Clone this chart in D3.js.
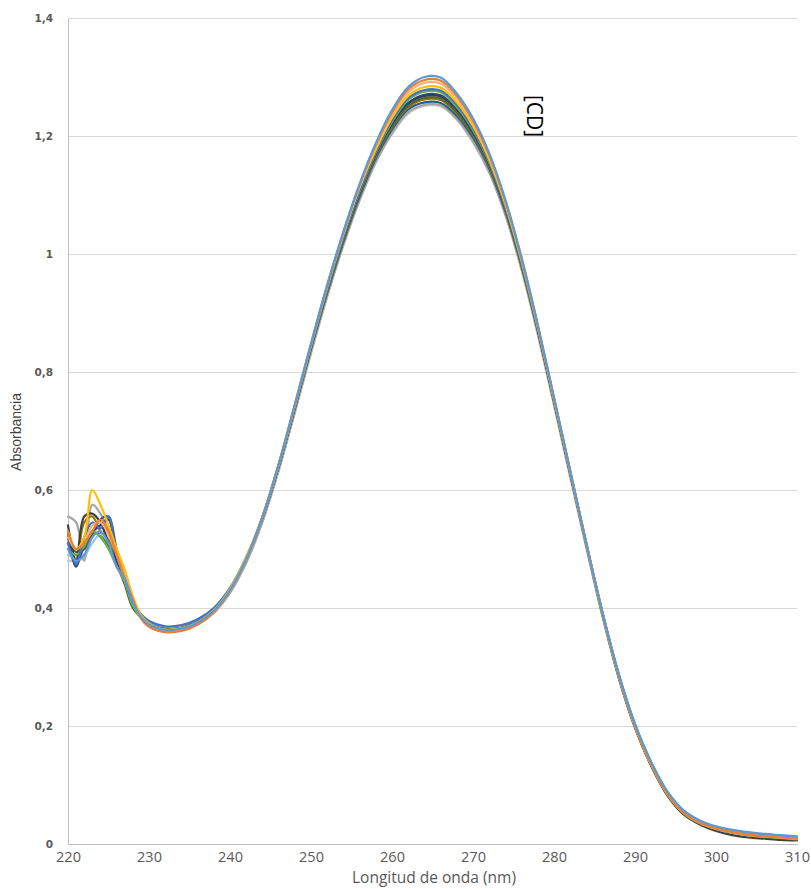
<!DOCTYPE html>
<html><head><meta charset="utf-8">
<script src="https://cdn.jsdelivr.net/npm/d3@7"></script>
<style>html,body{margin:0;padding:0;background:#fff;}</style>
</head><body>
<svg id="chart" width="811" height="889"></svg>
<script>
// wavelengths (nm)
const wavelengths = [220,221,222,223,224,225,226,227,228,229,230,232,234,236,238,240,242,244,246,248,250,252,254,256,258,260,262,264,266,268,270,272,274,276,278,280,282,284,286,288,290,292,294,296,298,300,302,304,306,308,310];
const xTicks = [220,230,240,250,260,270,280,290,300,310];
const yTicks = [0,0.2,0.4,0.6,0.8,1,1.2,1.4];
const yTickLabels = ["0","0,2","0,4","0,6","0,8","1","1,2","1,4"];

const s1 = [0.50,0.48,0.49,0.52,0.53,0.51,0.47,0.45,0.41, 0.385,0.372,0.363,0.365,0.375,0.395,0.430,0.483, 0.554,0.643,0.745,0.848,0.948,1.038,1.119,1.188,1.244,1.283,1.300,1.299,1.272,1.230,1.171,1.092,0.994,0.880,0.757,0.633,0.509, 0.391,0.287,0.203,0.139,0.089,0.057,0.040,0.030,0.024,0.020,0.017,0.015,0.013];
const s2 = [0.53,0.50,0.51,0.53,0.55,0.53,0.49,0.45,0.415, 0.383,0.368,0.359,0.361,0.372,0.393,0.429,0.482, 0.554,0.643,0.744,0.847,0.946,1.036,1.117,1.185,1.240,1.279,1.295,1.294,1.268,1.226,1.168,1.089,0.992,0.879,0.756,0.632,0.509, 0.390,0.285,0.200,0.135,0.085,0.053,0.036,0.026,0.020,0.016,0.013,0.011,0.009];
const s3 = [0.555,0.545,0.48,0.575,0.56,0.53,0.49,0.455,0.41, 0.386,0.372,0.362,0.363,0.373,0.392,0.426,0.477, 0.546,0.633,0.732,0.833,0.929,1.016,1.092,1.156,1.205,1.240,1.253,1.252,1.229,1.191,1.139,1.067,0.974,0.865,0.745,0.623,0.502, 0.385,0.281,0.198,0.134,0.085,0.053,0.036,0.026,0.020,0.016,0.013,0.011,0.009];
const s4 = [0.53,0.50,0.52,0.60,0.575,0.54,0.50,0.465,0.42, 0.388,0.374,0.364,0.366,0.376,0.396,0.432,0.486, 0.555,0.644,0.744,0.847,0.945,1.034,1.113,1.177,1.231,1.268,1.283,1.282,1.257,1.217,1.160,1.084,0.988,0.876,0.754,0.631,0.508, 0.390,0.285,0.200,0.135,0.085,0.053,0.036,0.026,0.020,0.016,0.013,0.011,0.009];
const s5 = [0.51,0.475,0.52,0.545,0.535,0.555,0.49,0.45,0.41, 0.390,0.378,0.369,0.371,0.381,0.400,0.434,0.486, 0.553,0.641,0.742,0.844,0.941,1.030,1.108,1.174,1.227,1.264,1.278,1.277,1.253,1.213,1.157,1.082,0.986,0.875,0.754,0.630,0.508, 0.392,0.288,0.203,0.138,0.088,0.056,0.039,0.029,0.023,0.019,0.016,0.014,0.012];
const s6 = [0.50,0.49,0.505,0.53,0.52,0.50,0.47,0.445,0.405, 0.384,0.370,0.361,0.363,0.374,0.394,0.429,0.482, 0.553,0.641,0.741,0.843,0.940,1.028,1.106,1.172,1.224,1.261,1.275,1.274,1.249,1.210,1.155,1.080,0.985,0.874,0.753,0.630,0.508, 0.389,0.284,0.199,0.134,0.084,0.052,0.035,0.025,0.019,0.015,0.012,0.010,0.008];
const s7 = [0.52,0.47,0.51,0.53,0.54,0.55,0.48,0.455,0.41, 0.386,0.373,0.364,0.366,0.376,0.396,0.431,0.484, 0.553,0.641,0.740,0.842,0.939,1.026,1.104,1.170,1.221,1.256,1.270,1.269,1.245,1.207,1.153,1.078,0.984,0.873,0.752,0.630,0.508, 0.390,0.285,0.200,0.135,0.085,0.053,0.036,0.026,0.020,0.016,0.013,0.011,0.009];
const s8 = [0.54,0.48,0.555,0.56,0.545,0.51,0.48,0.45,0.41, 0.385,0.372,0.363,0.365,0.375,0.395,0.430,0.483, 0.553,0.641,0.740,0.842,0.938,1.026,1.103,1.168,1.220,1.255,1.268,1.267,1.244,1.205,1.151,1.077,0.983,0.872,0.752,0.629,0.508, 0.388,0.282,0.197,0.132,0.082,0.050,0.033,0.022,0.015,0.011,0.009,0.007,0.006];
const s9 = [0.525,0.475,0.545,0.555,0.53,0.515,0.485,0.455,0.41, 0.385,0.372,0.363,0.365,0.375,0.395,0.430,0.483, 0.553,0.640,0.739,0.841,0.936,1.023,1.100,1.165,1.215,1.249,1.262,1.261,1.238,1.201,1.148,1.075,0.981,0.871,0.751,0.629,0.508, 0.390,0.285,0.200,0.135,0.085,0.053,0.036,0.026,0.020,0.016,0.013,0.011,0.009];
const s10 = [0.50,0.49,0.50,0.525,0.55,0.555,0.50,0.46,0.415, 0.387,0.374,0.365,0.367,0.377,0.397,0.432,0.484, 0.553,0.640,0.738,0.840,0.935,1.021,1.097,1.162,1.211,1.245,1.257,1.256,1.234,1.197,1.145,1.072,0.979,0.870,0.750,0.628,0.507, 0.391,0.286,0.201,0.136,0.086,0.054,0.037,0.027,0.021,0.017,0.014,0.012,0.010];
const s11 = [0.52,0.50,0.51,0.54,0.545,0.525,0.49,0.455,0.415, 0.382,0.369,0.360,0.362,0.372,0.392,0.428,0.482, 0.554,0.642,0.743,0.846,0.945,1.034,1.114,1.182,1.236,1.274,1.290,1.289,1.263,1.222,1.165,1.087,0.991,0.878,0.755,0.632,0.509, 0.390,0.285,0.200,0.135,0.085,0.053,0.036,0.026,0.020,0.016,0.013,0.011,0.009];
const s12 = [0.48,0.48,0.485,0.52,0.54,0.52,0.48,0.45,0.41, 0.384,0.371,0.361,0.363,0.372,0.391,0.425,0.476, 0.546,0.632,0.731,0.831,0.927,1.014,1.090,1.155,1.203,1.238,1.251,1.250,1.228,1.189,1.138,1.065,0.973,0.863,0.744,0.622,0.502, 0.385,0.281,0.198,0.134,0.085,0.053,0.036,0.026,0.020,0.016,0.013,0.011,0.009];
const s13 = [0.49,0.485,0.49,0.51,0.525,0.51,0.475,0.445,0.405, 0.384,0.371,0.362,0.364,0.374,0.394,0.429,0.482, 0.553,0.641,0.740,0.842,0.938,1.026,1.103,1.168,1.220,1.255,1.268,1.267,1.244,1.205,1.151,1.077,0.983,0.872,0.752,0.629,0.508, 0.390,0.285,0.200,0.135,0.085,0.053,0.036,0.026,0.020,0.016,0.013,0.011,0.009];
const s14 = [0.51,0.495,0.50,0.525,0.525,0.505,0.475,0.44,0.40, 0.384,0.371,0.362,0.364,0.374,0.394,0.429,0.482, 0.553,0.640,0.740,0.841,0.937,1.024,1.101,1.167,1.217,1.252,1.265,1.264,1.241,1.203,1.150,1.076,0.982,0.872,0.752,0.629,0.508, 0.390,0.285,0.200,0.135,0.085,0.053,0.036,0.026,0.020,0.016,0.013,0.011,0.009];

// drawing order (bottom to top) and colours
const seriesList = [s12, s3, s10, s9, s14, s13, s8, s7, s6, s5, s4, s11, s2, s1];
const seriesColors = ["#C9C9C9","#A5A5A5","#255E91","#997300","#43682B","#9DC3E6","#404040","#264478","#70AD47","#4472C4","#FFC000","#F4B183","#ED7D31","#5B9BD5"];

const svg = d3.select("#chart");
const M = {left: 68, right: 797, top: 18, bottom: 844};
const x = d3.scaleLinear().domain([220,310]).range([M.left, M.right]);
const y = d3.scaleLinear().domain([0,1.4]).range([M.bottom, M.top]);

// gridlines
svg.append("g").selectAll("line").data(yTicks.filter(d => d > 0)).join("line")
  .attr("x1", M.left).attr("x2", M.right)
  .attr("y1", d => y(d)).attr("y2", d => y(d))
  .attr("stroke", "#D9D9D9").attr("stroke-width", 1).attr("shape-rendering","crispEdges");

// y axis
const yAxis = d3.axisLeft(y).tickValues(yTicks).tickSize(0).tickPadding(15)
  .tickFormat((d,i) => yTickLabels[i]);
const gy = svg.append("g").attr("transform", `translate(${M.left},0)`).call(yAxis);
gy.select(".domain").attr("stroke", "#BFBFBF").attr("shape-rendering","crispEdges");
gy.selectAll("text").attr("font-family","DejaVu Sans, Verdana, sans-serif")
  .attr("font-size","10.5px").attr("font-weight","bold").attr("fill","#595959");

// x axis
const xAxis = d3.axisBottom(x).tickValues(xTicks).tickSize(0).tickPadding(8).tickFormat(d3.format("d"));
const gx = svg.append("g").attr("transform", `translate(0,${M.bottom})`).call(xAxis);
gx.select(".domain").attr("stroke", "#BFBFBF").attr("shape-rendering","crispEdges");
gx.selectAll("text").attr("font-family","Open Sans, sans-serif")
  .attr("font-size","14.5px").attr("fill","#595959");

// lines
const line = d3.line().x((d,i) => x(wavelengths[i])).y(d => y(d)).curve(d3.curveCatmullRom.alpha(0.5));
svg.append("g").selectAll("path").data(seriesList).join("path")
  .attr("d", d => line(d))
  .attr("fill","none")
  .attr("stroke", (d,i) => seriesColors[i])
  .attr("stroke-width", 2.2)
  .attr("stroke-linejoin","round").attr("stroke-linecap","round");

// axis titles
svg.append("text").attr("x", 434).attr("y", 883).attr("text-anchor","middle")
  .attr("font-family","Open Sans, sans-serif").attr("font-size","15.5px").attr("fill","#595959")
  .text("Longitud de onda (nm)");
svg.append("text").attr("transform","translate(21,432) rotate(-90)").attr("text-anchor","middle")
  .attr("font-family","Liberation Sans Narrow, Arial Narrow, sans-serif").attr("font-size","14px").attr("fill","#404040")
  .text("Absorbancia");
svg.append("text").attr("transform","translate(527,116) rotate(90)").attr("text-anchor","middle")
  .attr("font-family","Open Sans, sans-serif").attr("font-size","21px").attr("fill","#000")
  .text("[CD]");
</script>
</body></html>
